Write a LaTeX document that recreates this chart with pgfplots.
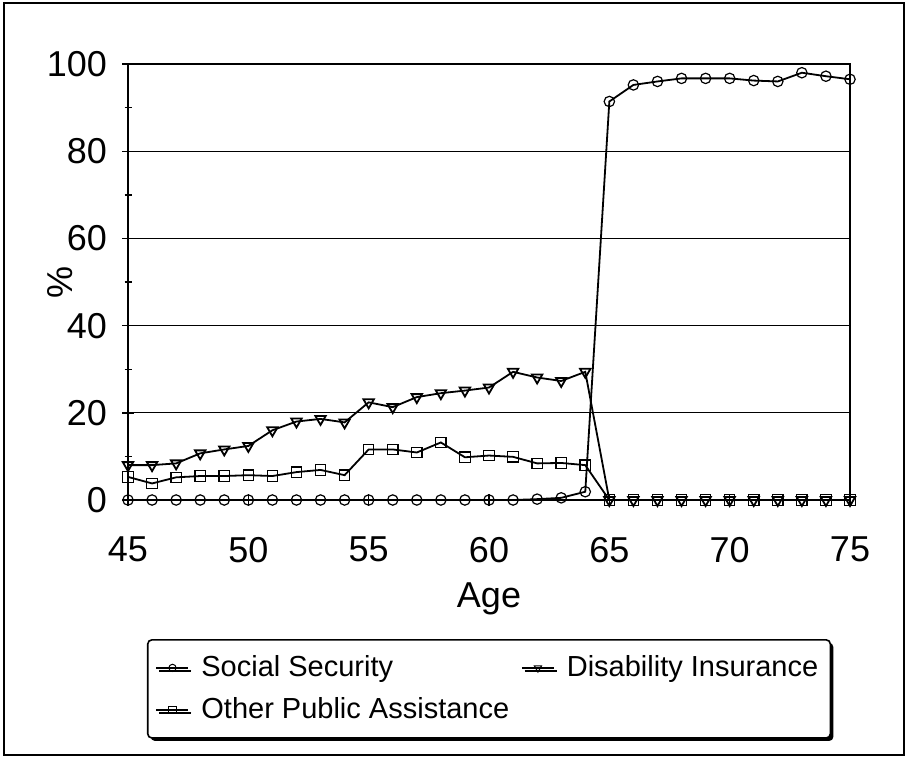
\documentclass[border=0pt]{standalone}
\usepackage{fontspec}
\setmainfont{Liberation Sans}
\usepackage{pgfplots}
\pgfplotsset{compat=1.18}
\usepackage{pgfplotstable}
\usetikzlibrary{shadows}

% age, social security, disability insurance, other public assistance
\pgfplotstableread{
age ss di opa
45 0 8.0 5.3
46 0 8.0 3.8
47 0 8.4 5.2
48 0 10.7 5.5
49 0 11.6 5.5
50 0 12.4 5.7
51 0 16.0 5.5
52 0 18.0 6.4
53 0 18.6 6.9
54 0 17.8 5.7
55 0 22.4 11.6
56 0 21.3 11.6
57 0 23.6 10.9
58 0 24.5 13.2
59 0 25.1 9.8
60 0 25.8 10.2
61 0 29.4 9.9
62 0.2 28.1 8.4
63 0.5 27.3 8.5
64 1.9 29.4 8.0
65 91.4 0 0
66 95.2 0 0
67 96.0 0 0
68 96.7 0 0
69 96.7 0 0
70 96.7 0 0
71 96.2 0 0
72 96.0 0 0
73 98.0 0 0
74 97.2 0 0
75 96.5 0 0
}\benefits

\begin{document}
\begin{tikzpicture}
\useasboundingbox (-64pt,-131pt) rectangle (390pt,250pt);
\draw[line width=0.6pt] (-62pt,-127.5pt) rectangle (388pt,248.5pt);
\begin{axis}[
    scale only axis,
    width=361pt, height=218pt,
    xmin=45, xmax=75, ymin=0, ymax=100,
    xtick={45,50,...,75},
    ytick={0,20,...,100},
    minor y tick num=1,
    tick align=center,
    xtick pos=bottom, ytick pos=left,
    major tick length=6pt, minor tick length=3.5pt,
    ymajorgrids,
    grid style={black, line width=0.5pt},
    axis line style={line width=0.8pt},
    tick style={black, line width=0.7pt},
    /pgf/number format/assume math mode=true,
    ticklabel style={font=\fontsize{18}{21}\selectfont},
    xticklabel style={yshift=-12pt},
    yticklabel style={xshift=-4pt},
    xlabel={Age},
    ylabel={\%},
    label style={font=\fontsize{18}{21}\selectfont},
    xlabel style={at={(axis description cs:0.5,-0.227)}, anchor=center},
    ylabel style={at={(axis description cs:-0.094,0.5)}, anchor=center},
    every axis plot/.append style={black, line width=0.9pt,
        mark options={solid, fill=white, line width=0.6pt}},
    legend image code/.code={
        \draw[mark repeat=2, mark phase=2, line width=0.7pt,
              every mark/.append style={scale=0.7, line width=0.5pt}]
        plot coordinates {(0pt,0pt) (8pt,0pt) (16pt,0pt)};
        \path (20pt,0pt);
    },
    legend columns=2,
    legend cell align=left,
    legend style={
        at={(axis description cs:0.0263,-0.319)}, anchor=north west,
        font=\fontsize{14.5}{17}\selectfont,
        draw=black, line width=0.8pt, rounded corners=2pt,
        inner xsep=4pt, inner ysep=6pt,
        drop shadow={shadow xshift=1.5pt, shadow yshift=-1.5pt, fill=black, opacity=1},
        /tikz/every even column/.append style={column sep=4pt},
        row sep=5pt,
    },
]
\addplot[mark=o, mark size=2.6pt] table[x=age, y=ss] {\benefits};
\addlegendentry{Social Security}
\addplot[mark=triangle, mark size=3pt, mark options={rotate=180}] table[x=age, y=di] {\benefits};
\addlegendentry{Disability Insurance}
\addplot[mark=square, mark size=2.6pt] table[x=age, y=opa] {\benefits};
\addlegendentry{Other Public Assistance}
\end{axis}
\end{tikzpicture}
\end{document}
